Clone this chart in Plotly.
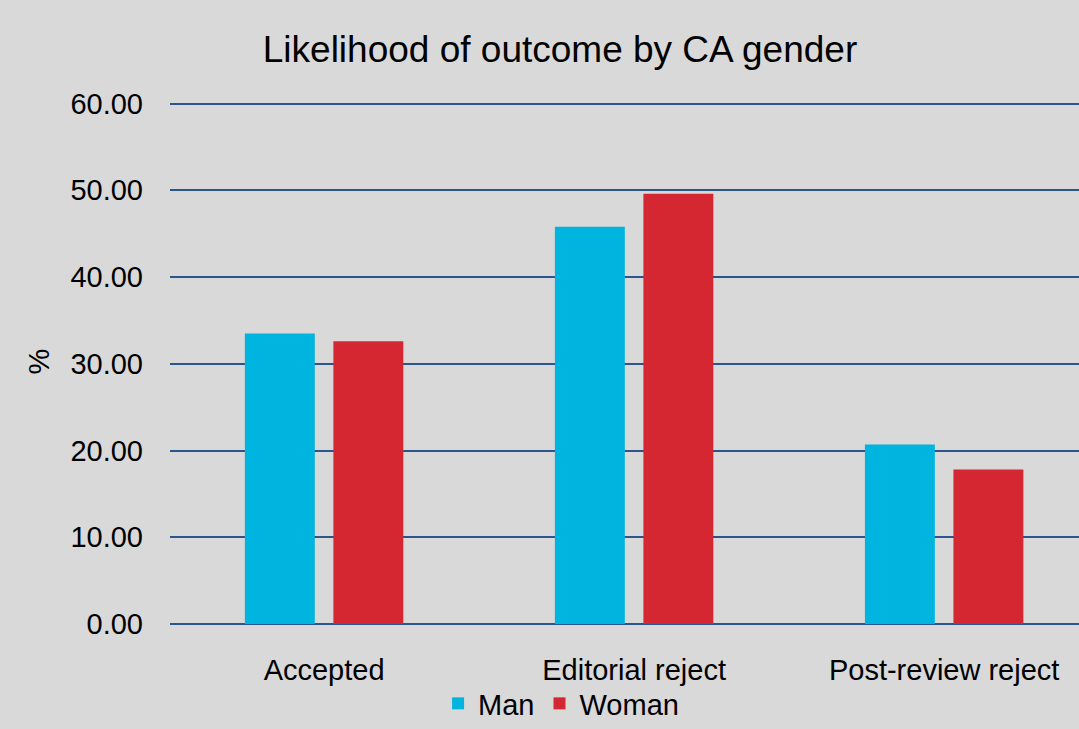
import plotly.graph_objects as go

# Outcome categories and the share (%) of submissions per corresponding-author gender
outcomes = ["Accepted", "Editorial reject", "Post-review reject"]
man_pct = [33.5, 45.8, 20.7]
woman_pct = [32.6, 49.6, 17.8]
y_ticks = [0, 10, 20, 30, 40, 50, 60]
y_tick_text = [f"{v:.2f}" for v in y_ticks]

FONT = "Liberation Sans, Arial, sans-serif"

fig = go.Figure()
fig.add_trace(go.Bar(name="Man", x=outcomes, y=man_pct, marker_color="#00B4E0",
                     marker_line_width=0))
fig.add_trace(go.Bar(name="Woman", x=outcomes, y=woman_pct, marker_color="#D52731",
                     marker_line_width=0))

fig.update_layout(
    width=1079, height=729,
    paper_bgcolor="#D9D9D9", plot_bgcolor="#D9D9D9",
    font=dict(family=FONT, size=29, color="#000000"),
    barmode="group", bargap=0.429, bargroupgap=0.21,
    margin=dict(l=170, r=0, t=99, b=105, autoexpand=False),
    title=dict(text="Likelihood of outcome by CA gender", x=0.519, xanchor="center",
               y=0.915, yanchor="bottom", font=dict(family=FONT, size=37)),
    xaxis=dict(range=[-0.497, 2.435], showgrid=False, zeroline=False, showline=False,
               ticks="", ticklabelstandoff=26, tickfont=dict(size=29)),
    yaxis=dict(range=[0, 60.52], tickvals=y_ticks, ticktext=y_tick_text,
               showgrid=True, gridcolor="#2B558C", gridwidth=2,
               zeroline=True, zerolinecolor="#2B558C", zerolinewidth=2,
               showline=False, ticks="", ticklabelstandoff=26,
               title=dict(text="%", standoff=12, font=dict(size=29)),
               tickfont=dict(size=29)),
    legend=dict(orientation="h", xref="container", x=0.52, xanchor="center",
                yref="container", y=0.0, yanchor="bottom",
                font=dict(size=29), itemwidth=30, traceorder="normal",
                bgcolor="rgba(0,0,0,0)"),
)

fig.write_html("out.html")
